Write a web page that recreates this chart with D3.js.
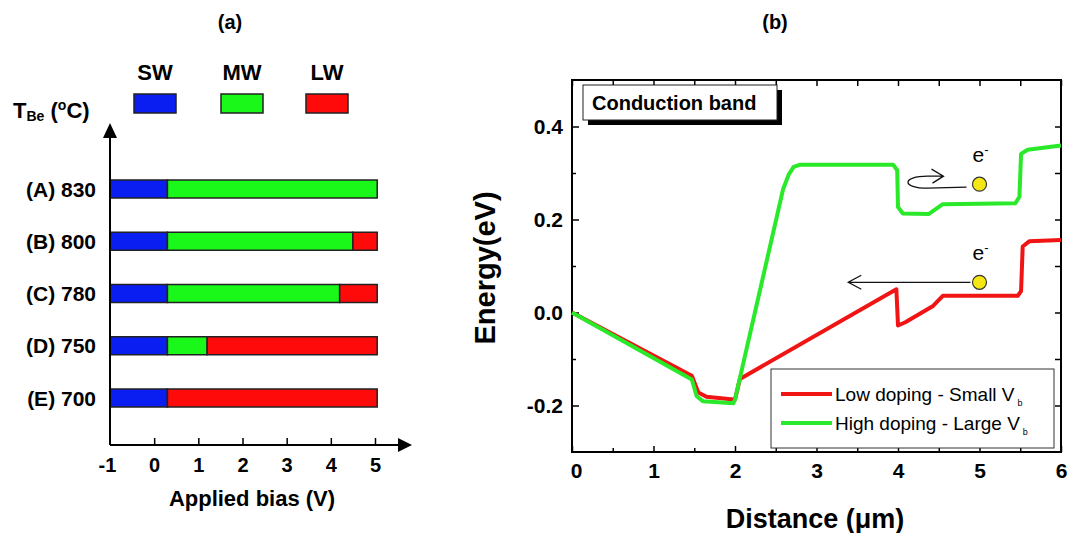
<!DOCTYPE html>
<html lang="en">
<head>
<meta charset="utf-8">
<title>bias map and conduction band</title>
<script src="https://cdn.jsdelivr.net/npm/d3@7"></script>
<style>
  body { margin: 0; background: #fff; }
  svg text { font-family: Arial, "Liberation Sans", sans-serif; }
</style>
</head>
<body>
<div id="chart"></div>
<script>
// ---- panel (a) data
var rowLabels = ["(A) 830", "(B) 800", "(C) 780", "(D) 750", "(E) 700"];
var biasStart = [-1, -1, -1, -1, -1];
var swEnd = [0.3, 0.3, 0.3, 0.3, 0.3];
var mwEnd = [5.05, 4.5, 4.2, 1.2, 0.3];
var lwEnd = [5.05, 5.05, 5.05, 5.05, 5.05];
var bandNames = ["SW", "MW", "LW"];
var biasTicks = [-1, 0, 1, 2, 3, 4, 5];

// ---- panel (b) data
var distLow = [0, 1.47, 1.55, 1.65, 1.98, 2.0, 2.06, 3.98, 4.0, 4.09, 4.43, 4.55, 5.47, 5.51, 5.53, 5.61, 6.0];
var energyLow = [0, -0.136, -0.172, -0.181, -0.187, -0.187, -0.143, 0.05, -0.028, -0.021, 0.014, 0.036, 0.036, 0.046, 0.142, 0.153, 0.156];
var distHigh = [0, 1.47, 1.53, 1.61, 1.98, 2.0, 2.59, 2.66, 2.72, 2.8, 3.94, 3.99, 4.0, 4.06, 4.38, 4.55, 5.44, 5.49, 5.51, 5.59, 6.0];
var energyHigh = [0, -0.144, -0.18, -0.191, -0.195, -0.187, 0.265, 0.297, 0.313, 0.318, 0.318, 0.306, 0.227, 0.213, 0.212, 0.233, 0.235, 0.249, 0.341, 0.35, 0.359];
var seriesNames = ["Low doping - Small V", "High doping - Large V"];
var distTicks = [0, 1, 2, 3, 4, 5, 6];
var energyTicks = [-0.2, 0.0, 0.2, 0.4];
var electronDist = [5.0, 5.0];
var electronEnergy = [0.276, 0.065];

var barColors = ["#0a1ef2", "#1af81a", "#ff0a0a"];
var lineColors = ["#f01414", "#2ae82a"];

var svg = d3.select("#chart").append("svg")
    .attr("width", 1077)
    .attr("height", 533);

// ================= panel (a)
var xa = d3.scaleLinear().domain([-1, 5]).range([110, 375]);
var ya = d3.scalePoint().domain(rowLabels).range([189, 398]);
var barH = 18;

svg.append("text").attr("x", 230).attr("y", 29).attr("text-anchor", "middle")
    .style("font-size", "20px").style("font-weight", "bold").text("(a)");

// legend swatches
var legX = [155, 242, 327];
bandNames.forEach(function(n, i) {
    svg.append("text").attr("x", legX[i]).attr("y", 80).attr("text-anchor", "middle")
        .style("font-size", "22px").style("font-weight", "bold").text(n);
    svg.append("rect").attr("x", legX[i] - 21).attr("y", 94).attr("width", 42).attr("height", 19)
        .attr("fill", barColors[i]).attr("stroke", "#222").attr("stroke-width", 1.5);
});

var tbe = svg.append("text").attr("x", 13).attr("y", 118)
    .style("font-size", "22px").style("font-weight", "bold");
tbe.append("tspan").text("T");
tbe.append("tspan").attr("dy", 3).style("font-size", "14px").text("Be");
tbe.append("tspan").attr("dy", -3).text(" (");
tbe.append("tspan").style("font-size", "14px").attr("dy", -8).text("o");
tbe.append("tspan").attr("dy", 8).text("C)");

// bars
var segs = [];
rowLabels.forEach(function(r, i) {
    segs.push({row: r, a: biasStart[i], b: swEnd[i], c: 0});
    segs.push({row: r, a: swEnd[i], b: mwEnd[i], c: 1});
    segs.push({row: r, a: mwEnd[i], b: lwEnd[i], c: 2});
});
svg.append("g").selectAll("rect").data(segs.filter(function(d) { return d.b > d.a; }))
    .enter().append("rect")
    .attr("x", function(d) { return xa(d.a); })
    .attr("y", function(d) { return ya(d.row) - barH / 2; })
    .attr("width", function(d) { return xa(d.b) - xa(d.a); })
    .attr("height", barH)
    .attr("fill", function(d) { return barColors[d.c]; })
    .attr("stroke", "#222").attr("stroke-width", 1.5);

svg.append("g").selectAll("text").data(rowLabels).enter().append("text")
    .attr("x", 96).attr("y", function(d) { return ya(d); })
    .attr("dy", "0.36em").attr("text-anchor", "end")
    .style("font-size", "21px").style("font-weight", "bold")
    .text(function(d) { return d; });

// axes with arrows
var axA = svg.append("g");
axA.append("line").attr("x1", xa(-1)).attr("y1", 445).attr("x2", 404).attr("y2", 445)
    .attr("stroke", "#000").attr("stroke-width", 2);
axA.append("path").attr("d", "M412,445 L398,438 L398,452 Z").attr("fill", "#000");
axA.append("line").attr("x1", xa(-1)).attr("y1", 445).attr("x2", xa(-1)).attr("y2", 132)
    .attr("stroke", "#000").attr("stroke-width", 2);
axA.append("path").attr("d", "M" + xa(-1) + ",123 L" + (xa(-1) - 7) + ",138 L" + (xa(-1) + 7) + ",138 Z").attr("fill", "#000");

var xAxisA = d3.axisBottom(xa).tickValues(biasTicks).tickSizeInner(-7).tickSizeOuter(0)
    .tickPadding(13).tickFormat(function(d) { return String(d); });
var gxa = svg.append("g").attr("transform", "translate(0,445)").call(xAxisA);
gxa.select(".domain").remove();
gxa.selectAll(".tick line").attr("stroke-width", 1.5);
gxa.selectAll(".tick text").style("font-size", "20px").style("font-weight", "bold")
    .style("font-family", "Arial, 'Liberation Sans', sans-serif").attr("fill", "#000");
gxa.selectAll(".tick").filter(function(d) { return d === -1; }).select("line").remove();
gxa.selectAll(".tick").filter(function(d) { return d === -1; }).select("text").attr("dx", -3);

svg.append("text").attr("x", 252).attr("y", 506).attr("text-anchor", "middle")
    .style("font-size", "22px").style("font-weight", "bold").text("Applied bias (V)");

// ================= panel (b)
var xb = d3.scaleLinear().domain([0, 6]).range([572, 1061]);
var yb = d3.scaleLinear().domain([-0.3, 0.5]).range([452, 80]);

svg.append("text").attr("x", 775).attr("y", 29).attr("text-anchor", "middle")
    .style("font-size", "20px").style("font-weight", "bold").text("(b)");

var minorX = [0.5, 1.5, 2.5, 3.5, 4.5, 5.5];
var minorY = [-0.1, 0.1, 0.3];

function styleAxis(g) {
    g.select(".domain").remove();
    g.selectAll(".tick line").attr("stroke-width", 1.5);
    g.selectAll(".tick text").style("font-size", "21px").style("font-weight", "bold")
        .style("font-family", "Arial, 'Liberation Sans', sans-serif").attr("fill", "#000");
}
var gB = svg.append("g").attr("transform", "translate(0,452)")
    .call(d3.axisBottom(xb).tickValues(distTicks).tickSizeInner(-6).tickSizeOuter(0).tickPadding(11)
        .tickFormat(function(d) { return String(d); }));
styleAxis(gB);
gB.selectAll(".tick text").filter(function(d) { return d === 0; }).attr("dx", 4);
styleAxis(svg.append("g").attr("transform", "translate(0,452)")
    .call(d3.axisBottom(xb).tickValues(minorX).tickSizeInner(-4).tickSizeOuter(0).tickFormat("")));
styleAxis(svg.append("g").attr("transform", "translate(0,80)")
    .call(d3.axisTop(xb).tickValues(distTicks.concat(minorX)).tickSizeInner(-6).tickSizeOuter(0).tickFormat("")));
styleAxis(svg.append("g").attr("transform", "translate(572,0)")
    .call(d3.axisLeft(yb).tickValues(energyTicks).tickSizeInner(-7).tickSizeOuter(0).tickPadding(9)
        .tickFormat(function(d) { return d.toFixed(1); })));
styleAxis(svg.append("g").attr("transform", "translate(572,0)")
    .call(d3.axisLeft(yb).tickValues(minorY).tickSizeInner(-4).tickSizeOuter(0).tickFormat("")));
styleAxis(svg.append("g").attr("transform", "translate(1061,0)")
    .call(d3.axisRight(yb).tickValues(energyTicks.concat(minorY)).tickSizeInner(-6).tickSizeOuter(0).tickFormat("")));

svg.append("rect").attr("x", 572).attr("y", 80).attr("width", 489).attr("height", 372)
    .attr("fill", "none").attr("stroke", "#000").attr("stroke-width", 2);

// curves
var line = d3.line().x(function(d) { return xb(d[0]); }).y(function(d) { return yb(d[1]); });
var lowPts = distLow.map(function(d, i) { return [d, energyLow[i]]; });
var highPts = distHigh.map(function(d, i) { return [d, energyHigh[i]]; });
svg.append("path").datum(lowPts).attr("d", line).attr("fill", "none")
    .attr("stroke", lineColors[0]).attr("stroke-width", 4).attr("stroke-linejoin", "round");
svg.append("path").datum(highPts).attr("d", line).attr("fill", "none")
    .attr("stroke", lineColors[1]).attr("stroke-width", 4).attr("stroke-linejoin", "round");

// conduction band box
svg.append("rect").attr("x", 588).attr("y", 90).attr("width", 194).attr("height", 35).attr("fill", "#000");
svg.append("rect").attr("x", 583).attr("y", 85).attr("width", 194).attr("height", 35)
    .attr("fill", "#fff").attr("stroke", "#222").attr("stroke-width", 1);
svg.append("text").attr("x", 592).attr("y", 110).style("font-size", "20px").style("font-weight", "bold")
    .text("Conduction band");

// electrons and arrows
electronDist.forEach(function(d, i) {
    var cx = xb(d), cy = yb(electronEnergy[i]);
    svg.append("circle").attr("cx", cx).attr("cy", cy).attr("r", 7)
        .attr("fill", "#f5e616").attr("stroke", "#333").attr("stroke-width", 1.2);
    var t = svg.append("text").attr("x", cx - 7).attr("y", cy - 22).style("font-size", "21px");
    t.append("tspan").text("e");
    t.append("tspan").attr("dy", -8).style("font-size", "13px").text("-");
});
var e0x = xb(electronDist[0]), e0y = yb(electronEnergy[0]);
svg.append("path").attr("transform", "translate(" + e0x + "," + e0y + ")")
    .attr("d", "M-13,3 L-52,4 C-78,4 -78,-8 -52,-8 L-36,-8 M-48,-15 L-36,-8 L-47,-1")
    .attr("fill", "none").attr("stroke", "#111").attr("stroke-width", 1.3);
var e1x = xb(electronDist[1]), e1y = yb(electronEnergy[1]);
svg.append("path")
    .attr("d", "M" + (e1x - 9) + "," + e1y + " L" + xb(3.39) + "," + e1y +
        " M" + (xb(3.39) + 13) + "," + (e1y - 7) + " L" + xb(3.39) + "," + e1y + " L" + (xb(3.39) + 13) + "," + (e1y + 7))
    .attr("fill", "none").attr("stroke", "#111").attr("stroke-width", 1.3);

// legend (b)
var lg = svg.append("g");
lg.append("rect").attr("x", 771).attr("y", 369).attr("width", 283).attr("height", 79)
    .attr("fill", "#fff").attr("stroke", "#333").attr("stroke-width", 1);
seriesNames.forEach(function(n, i) {
    var y = 394 + i * 29;
    lg.append("line").attr("x1", 781).attr("x2", 832).attr("y1", y).attr("y2", y)
        .attr("stroke", lineColors[i]).attr("stroke-width", 4);
    var t = lg.append("text").attr("x", 835).attr("y", y + 7).style("font-size", "19px");
    t.append("tspan").text(n);
    t.append("tspan").attr("dx", 3).attr("dy", 5).style("font-size", "9px").text("b");
});

// axis titles
svg.append("text").attr("x", 815).attr("y", 528).attr("text-anchor", "middle")
    .style("font-size", "27px").style("font-weight", "bold").text("Distance (\u03bcm)");
svg.append("text").attr("transform", "translate(495,268) rotate(-90)").attr("text-anchor", "middle")
    .style("font-size", "29px").style("font-weight", "bold").text("Energy(eV)");
</script>
</body>
</html>
